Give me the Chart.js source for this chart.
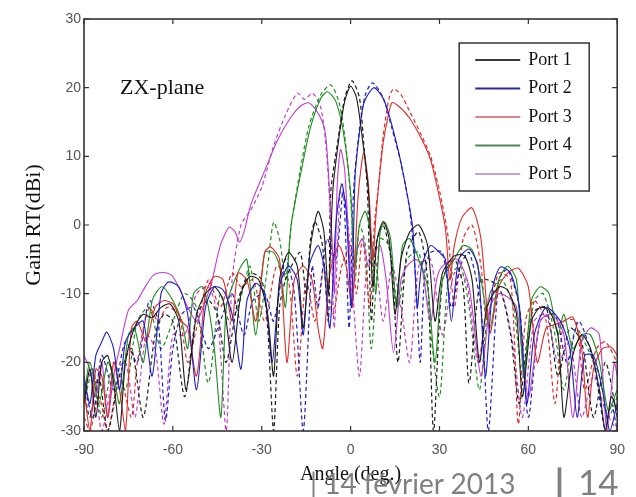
<!DOCTYPE html>
<html><head><meta charset="utf-8">
<script src="https://cdn.jsdelivr.net/npm/chart.js@4.4.0/dist/chart.umd.min.js"></script>
<style>
html,body{margin:0;padding:0;background:#fff;overflow:hidden;width:636px;height:497px}
#wrap{position:relative;width:636px;height:497px}
canvas{position:absolute;left:0;top:0}
.foot{position:absolute;font-family:Lato,'Open Sans',sans-serif;color:#808080;white-space:nowrap;line-height:1}
</style></head><body>
<div id="wrap"><canvas id="c" width="636" height="497"></canvas>
<div class="foot" style="left:310px;top:469px;font-size:28px">| 14 février 2013</div>
<div class="foot" style="left:555px;top:464px;font-size:34px;font-weight:900">|</div>
<div class="foot" style="left:578px;top:464px;font-size:35px">14</div>
</div>
<script>
// ---- data (angle in degrees, gain in dBi) ----
const portNames = ['Port 1', 'Port 2', 'Port 3', 'Port 4', 'Port 5'];
const xTicks = [-90, -60, -30, 0, 30, 60, 90];
const yTicks = [-30, -20, -10, 0, 10, 20, 30];

const port1Sim = [[-90,-26],[-88,-21],[-86,-28],[-84,-20],[-82,-19],[-80,-23],[-78,-30],[-76,-20],[-73,-15],[-70,-13],[-67,-13.5],[-64,-12],[-61,-11.5],[-58,-14],[-55.5,-24],[-52,-13],[-49,-10],[-46,-9],[-43,-11],[-40,-20],[-37,-10],[-34,-7.5],[-31,-8],[-28,-13],[-26,-22],[-24,-8],[-21,-4],[-18,-6],[-16,-15],[-13.5,-3],[-11,2],[-9,-1],[-7.5,-10],[-6,5],[-4,12.5],[-2,18],[0,20.2],[2,18.5],[4,12.5],[6,5],[7.5,-9],[9,-2],[11,0.5],[13,-2],[15,-13],[17,-5],[20,-1],[23,0],[26,-3],[28.5,-14],[31,-7],[35,-4.5],[38.5,-4.5],[41,-8],[43.5,-20],[46,-12],[50,-9],[53,-9.5],[56,-13],[58,-25],[61,-14],[64,-12],[67,-12.4],[70,-16],[72,-28],[75,-19],[78,-16],[81,-18],[84,-24],[86,-30],[88,-25],[90,-27]];
const port1Meas = [[-90,-24],[-88,-28],[-85,-22],[-82,-30],[-78,-22],[-74,-18],[-70,-28],[-66,-16],[-63,-13],[-60,-14],[-56,-25],[-52,-13],[-48,-11],[-45,-13],[-42,-20],[-38,-11],[-34,-7],[-30,-8],[-28,-15],[-26,-30],[-24,-12],[-22,-8],[-20,-6],[-17,-4],[-15,-10],[-13.5,-2],[-12,0.5],[-9.5,-3],[-7.5,-14],[-6.7,4.7],[-4.4,12],[-2,18.5],[0.5,21],[3,18.5],[4.4,12],[5.7,4.7],[7,-14],[8.5,-3],[11,0],[14,-6],[16,-20],[19,-4],[23,-1],[26,-8],[28,-30],[31,-8],[35,-5],[38,-9],[40,-23],[44,-8],[50,-9],[54,-16],[57,-26],[61,-13],[66,-12],[70,-22],[74,-15],[78,-17],[82,-28],[86,-20],[90,-28]];
const port2Sim = [[-90,-22],[-88,-26],[-86,-19],[-84,-17],[-82.3,-15.6],[-80,-18],[-78,-24],[-76,-17],[-73,-15],[-70,-14],[-67,-22],[-64,-10],[-61.5,-8.3],[-58,-9],[-55,-13],[-52,-24],[-49,-12],[-46,-9],[-43,-9.5],[-40,-13],[-37,-21],[-35,-11],[-32,-8.5],[-29,-10],[-26.5,-20],[-24,-9],[-21,-6],[-18,-8],[-16,-16],[-14,-6],[-11,-3],[-9,-6],[-7,-15],[-5,0],[-3,6],[-1.5,2],[0.3,-12],[1.5,7],[3,13.5],[4.5,17.8],[7.8,20],[10.5,18.8],[12.5,16.7],[16,11],[19,4.7],[21,-0.5],[22.5,-12],[24,-6],[27,-3],[30,-4],[32,-5],[34,-14],[36.5,-5],[40,-3.5],[43,-6],[45.5,-22],[48,-9],[50.6,-6.1],[54,-7],[57,-12],[59.5,-26],[62,-16],[66,-12],[70.8,-14],[74,-18],[76.5,-28],[79,-19],[82,-19],[85,-24],[87.5,-30],[90,-26]];
const port2Meas = [[-90,-23],[-87,-28],[-84,-19],[-80,-24],[-76,-17],[-72,-20],[-68,-11],[-65,-14],[-62.5,-28.5],[-60,-18],[-57,-13],[-53,-12],[-48,-18],[-44,-14],[-40,-10],[-36,-16],[-33,-11],[-29,-10],[-26,-14],[-22,-5],[-19,-10],[-16,-30],[-13,-6],[-11,-12],[-8,-2],[-5,-5],[-2.5,5],[-0.5,-15],[1,5],[3,14],[5,19],[7.4,20.7],[11,18.5],[14,14],[17,9],[20,2],[22,-8],[23.5,-20],[25,-7],[27,-4],[31,-4],[34,-12],[37,-6],[40,-4],[44,-12],[46.5,-30],[50,-8],[53,-6.5],[57,-12],[60,-28],[64,-14],[69,-13],[73,-20],[77,-14],[82,-20],[86,-30],[88,-26],[90,-30]];
const port3Sim = [[-90,-24],[-88,-30],[-86,-21],[-84,-22],[-82,-28],[-80,-20],[-78,-24],[-76,-30],[-74,-15],[-72,-14],[-69,-17],[-66,-12],[-63,-11],[-60,-11.5],[-57,-14],[-55,-15],[-52,-22],[-49,-10],[-46,-7.5],[-43,-8],[-40,-14],[-38,-7],[-35,-8],[-32,-14],[-29,-4],[-27,-3.2],[-24,-5],[-21.5,-20],[-19,-8],[-16,-6],[-13,-8],[-11,-15],[-9.4,-18],[-7,-7],[-4,-3],[-1.5,-6],[0.5,-12],[2.5,4],[4.4,10.5],[6,6],[7.5,-5],[8.5,1],[9.5,6],[11,12],[12.5,15.5],[14,17.8],[17,17],[20,15.5],[24,12.5],[27,9.5],[30,4],[32,-0.5],[33.5,-8],[35,-3],[37.5,1],[41,2.5],[44,-2],[47,-15.7],[50,-9],[53,-7],[56.6,-6.3],[60,-9],[63,-20],[66,-15],[69,-14.5],[72,-14],[75,-13.4],[78,-18],[80,-28],[82,-21],[85,-18],[88,-17.8],[90,-19]];
const port3Meas = [[-90,-28],[-88,-30],[-85,-25],[-82,-30],[-78,-22],[-74,-28],[-72,-20],[-68,-12],[-65,-14],[-62,-12],[-58,-13],[-55,-20],[-52,-15],[-48,-8],[-44,-12],[-40,-7],[-37,-9],[-33,-8],[-29,-14],[-25,-6],[-21,-8],[-18,-22],[-15,-8],[-12,-14],[-9,-6],[-6,-13],[-3,-6],[0,-3],[2,-10],[4,-2],[6.5,-12],[8,0],[9.5,6],[11,13],[13,18.5],[14.5,19.8],[17,19],[20,16.5],[24,13],[27,10],[30,5],[33,-2],[35,-12],[38,-2],[41,0],[44,-6],[46,-14],[50,-7],[54,-8],[56.6,-29],[59,-14],[62,-11],[66,-14],[69,-26],[72,-14],[76,-14],[79,-24],[83,-18],[86,-17],[90,-20]];
const port4Sim = [[-90,-25],[-88,-20],[-85,-26],[-82,-20],[-80,-22],[-78,-26],[-75,-16],[-73,-15],[-70,-20],[-67,-11],[-63.7,-9],[-60,-11],[-57,-14],[-55,-18],[-53,-10],[-50,-9],[-48,-12],[-46,-18],[-43.8,-28],[-42,-12],[-40,-9],[-37,-6],[-35,-5],[-32,-16],[-29,-4],[-26,-4],[-24,-6],[-22,-12],[-21,-5],[-20,0.3],[-16.8,7.6],[-13.5,14.3],[-10,18.5],[-7.8,19.4],[-5,18],[-2.4,13.4],[0,4.7],[1.5,-6],[3,0],[5,2],[7,-2],[8.5,-10],[10,-1],[11.5,0.4],[13.5,-2],[15.5,-12],[17.5,-3],[20,-2],[23,-5],[26,-9],[28.5,-20],[31,-8],[35,-5],[38,-3],[41,-3.6],[44,-8],[47,-15],[50,-8],[53,-6],[56,-8],[58.5,-22],[61,-11],[64,-9],[67,-10],[70,-16],[72,-13],[75,-18],[78,-16],[81,-16],[84,-20],[87,-27],[90,-24]];
const port4Meas = [[-90,-26],[-87,-21],[-84,-28],[-80,-20],[-76,-24],[-72,-14],[-68,-12],[-64,-18],[-60,-14],[-56,-10],[-52,-12],[-48,-23],[-44,-10],[-41,-14],[-38,-12],[-34,-6],[-31,-14],[-28,-6],[-26,0.4],[-24,-2],[-22,-8],[-20,0],[-17,8],[-14,14.5],[-10,19],[-6.7,20.4],[-4,18],[-2,13],[0,4],[1.5,-8],[3,0],[5,-3],[7,-18],[10,-2],[13,-3],[16,-12],[19,-5],[23,-4],[26,-12],[30,-25],[33,-8],[37,-6],[40,-12],[43.5,-24],[47,-10],[51,-8],[55,-12],[58,-22],[62,-11],[65,-10],[69,-16],[72,-24],[76,-15],[80,-18],[84,-22],[87,-28],[90,-25]];
const port5Sim = [[-90,-19],[-88,-21],[-86,-25],[-84,-20],[-82,-28],[-80,-22],[-78,-18],[-75,-12.4],[-72,-11],[-70,-9.5],[-67,-7.5],[-65,-7],[-62,-7],[-60,-7.5],[-57,-10],[-55,-12],[-52,-14],[-49,-11],[-47,-8.5],[-44,-3],[-41,-0.3],[-39,-1],[-37.5,-2.5],[-36,-1],[-34,2.5],[-32.7,4.1],[-29.3,7.6],[-24.6,12.4],[-20.2,15.7],[-17,17.3],[-14.2,17.8],[-11.8,16.8],[-9.5,15],[-8.4,13],[-7.4,7],[-6.3,-2],[-5.5,-10],[-4.5,6],[-3.4,11],[-2,8],[-0.5,-4],[0.5,-12],[2,-4],[4,-2],[6,-6],[8,-4],[10,-3],[12,-8],[14.5,-18.6],[17,-8],[19,-6],[22,-5],[24,-6],[27,-14],[29,-8],[31,-6],[36,-5],[40,-9],[44,-22],[47,-12],[50,-10],[53,-10.5],[56,-12],[60,-25],[64,-14],[68,-13],[72,-16],[75,-28],[78,-17],[81,-15],[84,-16],[86.5,-30],[89,-20],[90,-22]];
const port5Meas = [[-90,-24],[-87,-21],[-84,-30],[-80,-22],[-76,-20],[-72.8,-28],[-69,-16],[-66,-18],[-63,-29],[-60,-16],[-56,-16],[-52,-10],[-48,-9],[-45,-13],[-42,-30],[-40,-8],[-37,0],[-33.7,2.2],[-30,5.5],[-26,11.5],[-22,16],[-18,19.2],[-15.5,18.3],[-12.8,19.2],[-10,17],[-8,10],[-6.5,-2],[-5.5,-15],[-3.5,5],[-1.5,3],[0.5,-8],[3,-22],[5.5,-6],[8,-4],[11,-14],[14,-6],[17,-12],[20,-20],[23,-6],[27,-5],[31,-16],[35,-7],[39,-8],[43,-20],[47,-10],[51,-10],[55,-18],[58,-28],[62,-14],[66,-13],[70,-20],[74,-17],[78,-28],[82,-22],[86,-27],[90,-30]];

// ---- styles ----
const simulated = [port1Sim, port2Sim, port3Sim, port4Sim, port5Sim];
const measured = [port1Meas, port2Meas, port3Meas, port4Meas, port5Meas];
const lineColors = ['#1a1a1a', '#1c1cc8', '#e02a2a', '#1e8c1e', '#c03ccc'];
const legendColors = ['#3a3a3a', '#2a2aa0', '#e08090', '#4a8a5a', '#c8a0d0'];

const toXY = arr => arr.map(p => ({ x: p[0], y: p[1] }));
const datasets = [];
simulated.forEach((d, i) => datasets.push({ label: portNames[i], data: toXY(d), borderColor: lineColors[i], borderWidth: 1.1, pointRadius: 0, tension: 0.25 }));
measured.forEach((d, i) => datasets.push({ label: portNames[i] + ' meas', data: toXY(d), borderColor: lineColors[i], borderWidth: 1.2, borderDash: [4, 3], pointRadius: 0, tension: 0.25 }));

const framePlugin = {
  id: 'frame',
  afterDraw(chart) {
    const { ctx, chartArea: a, scales: { x, y } } = chart;
    ctx.save();
    ctx.strokeStyle = '#333'; ctx.lineWidth = 1.6;
    ctx.strokeRect(a.left, a.top, a.right - a.left, a.bottom - a.top);
    ctx.lineWidth = 1.2;
    ctx.beginPath();
    x.ticks.forEach(t => { const p = x.getPixelForValue(t.value); ctx.moveTo(p, a.bottom); ctx.lineTo(p, a.bottom - 5); ctx.moveTo(p, a.top); ctx.lineTo(p, a.top + 5); });
    y.ticks.forEach(t => { const p = y.getPixelForValue(t.value); ctx.moveTo(a.left, p); ctx.lineTo(a.left + 5, p); ctx.moveTo(a.right, p); ctx.lineTo(a.right - 5, p); });
    ctx.stroke();
    // annotation
    ctx.fillStyle = '#111'; ctx.textBaseline = 'middle'; ctx.textAlign = 'left';
    ctx.font = '22px "Liberation Serif"';
    ctx.fillText('ZX-plane', a.left + 36, a.top + 69);
    // legend
    const lx = a.right - 158, ly = a.top + 24, lw = 130, lh = 148;
    ctx.fillStyle = '#fff'; ctx.fillRect(lx, ly, lw, lh);
    ctx.strokeStyle = '#333'; ctx.lineWidth = 1.5; ctx.strokeRect(lx, ly, lw, lh);
    ctx.font = '18px "Liberation Serif"';
    portNames.forEach((n, i) => {
      const yy = ly + 17 + i * 28.5;
      ctx.strokeStyle = legendColors[i]; ctx.lineWidth = 2;
      ctx.beginPath(); ctx.moveTo(lx + 16, yy); ctx.lineTo(lx + 61, yy); ctx.stroke();
      ctx.fillStyle = '#111'; ctx.fillText(n, lx + 69, yy);
    });
    ctx.restore();
  }
};

new Chart(document.getElementById('c'), {
  type: 'line',
  data: { datasets },
  options: {
    responsive: false, animation: false, devicePixelRatio: 1,
    layout: { padding: { left: 16, right: 18, top: 19, bottom: 4 } },
    plugins: { legend: { display: false }, tooltip: { enabled: false } },
    scales: {
      x: {
        type: 'linear', min: xTicks[0], max: xTicks[xTicks.length - 1],
        afterBuildTicks: s => { s.ticks = xTicks.map(v => ({ value: v })); },
        ticks: { font: { family: 'Liberation Sans', size: 14 }, color: '#555', padding: 11, maxRotation: 0, autoSkip: false },
        grid: { display: false, drawTicks: false }, border: { display: false },
        title: { display: true, text: 'Angle (deg.)', font: { family: 'Liberation Serif', size: 20 }, color: '#111', padding: { top: 0, bottom: 6 } },
        afterFit: s => { s.height = 62; }
      },
      y: {
        type: 'linear', min: yTicks[0], max: yTicks[yTicks.length - 1],
        afterBuildTicks: s => { s.ticks = yTicks.map(v => ({ value: v })); },
        ticks: { font: { family: 'Liberation Sans', size: 14 }, color: '#555', padding: 3, autoSkip: false },
        grid: { display: false, drawTicks: false }, border: { display: false },
        title: { display: true, text: 'Gain RT(dBi)', font: { family: 'Liberation Serif', size: 22 }, color: '#111', padding: { top: 5, bottom: 0 } },
        afterFit: s => { s.width = 68; }
      }
    }
  },
  plugins: [framePlugin]
});
</script>
</body></html>
